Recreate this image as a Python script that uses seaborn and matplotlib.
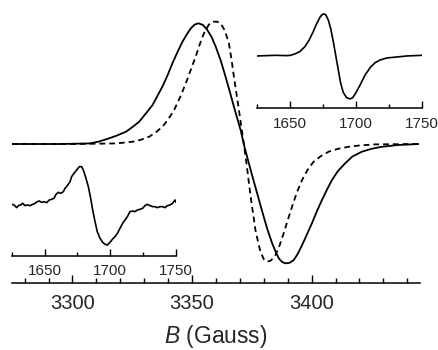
import matplotlib
matplotlib.use("Agg")
import matplotlib.pyplot as plt
import seaborn as sns
from matplotlib.ticker import MultipleLocator, FixedLocator

# ---------------- data ----------------
# main spectrum, solid curve (B in Gauss, derivative signal in a.u.)
solid_B = [3274.6, 3294.6, 3307.1, 3311.0, 3315.4, 3318.5, 3322.4, 3325.0, 3327.9,
           3330.5, 3333.5, 3335.5, 3337.6, 3339.7, 3341.8, 3344.0, 3346.0, 3348.0,
           3349.5, 3351.0, 3352.6, 3354.5, 3356.4, 3358.2, 3359.9, 3362.0, 3364.0,
           3365.8, 3367.5, 3370.3, 3372.0, 3375.1, 3379.3, 3381.4, 3383.5, 3385.0,
           3386.3, 3387.6, 3389.0, 3390.8, 3392.5, 3394.2, 3396.0, 3398.0, 3400.1,
           3402.2, 3404.3, 3406.4, 3408.5, 3411.0, 3414.0, 3417.0, 3421.0, 3425.0,
           3429.3, 3436.3, 3444.6]
solid_signal = [0, 0, 0.5, 2.0, 4.8, 7.0, 10.3, 14.0, 18.6,
                25.0, 32.5, 40.0, 47.8, 57.0, 67.3, 77.0, 85.3, 92.0,
                96.4, 99.4, 100.6, 99.3, 95.0, 89.0, 81.1, 69.5, 56.1,
                43.5, 31.1, 11.7, -3.0, -26.0, -56.0, -70.5, -82.8, -90.0,
                -95.3, -98.2, -99.4, -99.0, -96.7, -91.5, -84.2, -75.5, -66.1,
                -56.0, -46.7, -38.0, -30.0, -22.5, -16.1, -10.5, -6.4, -4.0,
                -2.3, -0.8, 0]

# main spectrum, dashed curve
dashed_B = [3274.6, 3300.0, 3318.3, 3325.1, 3328.5, 3332.1, 3335.0, 3337.6, 3340.0,
            3342.5, 3345.0, 3347.4, 3349.5, 3351.5, 3353.3, 3355.0, 3357.0, 3358.5,
            3360.3, 3362.0, 3363.8, 3365.4, 3366.5, 3367.5, 3369.6, 3372.4, 3374.5,
            3376.5, 3377.6, 3378.6, 3380.0, 3381.4, 3383.0, 3384.9, 3386.6, 3388.3,
            3390.0, 3391.8, 3393.8, 3396.0, 3398.3, 3400.8, 3403.7, 3407.1, 3411.0,
            3415.4, 3420.0, 3426.5, 3444.6]
dashed_signal = [0, 0, 0.5, 1.9, 3.5, 6.1, 10.0, 14.4, 20.5,
                 28.3, 39.0, 50.6, 62.0, 72.8, 83.5, 92.3, 99.5, 101.9,
                 102.0, 100.6, 94.0, 83.9, 70.5, 56.1, 28.3, -10.6, -43.9,
                 -71.7, -81.5, -89.8, -96.0, -98.1, -97.0, -92.5, -84.5, -74.4,
                 -63.5, -52.2, -40.5, -30.0, -21.5, -14.8, -10.3, -6.4, -4.0,
                 -2.3, -1.2, -0.3, 0]

# lower-left inset (half-field region, noisy)
low_B = [1625.0, 1626.8, 1628.8, 1630.1, 1631.8, 1633.4, 1635.1, 1636.9, 1638.9,
         1641.0, 1642.7, 1644.5, 1646.0, 1647.8, 1649.6, 1651.6, 1653.6, 1655.4,
         1657.2, 1658.7, 1660.5, 1662.3, 1664.3, 1665.6, 1667.3, 1669.4, 1670.6,
         1672.4, 1674.4, 1676.5, 1678.2, 1679.5, 1681.5, 1683.3, 1685.1, 1686.6,
         1688.4, 1690.1, 1692.2, 1694.2, 1696.0, 1697.8, 1699.8, 1701.8, 1703.6,
         1705.4, 1707.4, 1709.4, 1711.2, 1713.0, 1715.0, 1717.0, 1718.8, 1720.6,
         1722.6, 1724.6, 1726.4, 1728.2, 1730.2, 1732.2, 1734.0, 1735.8, 1737.8,
         1739.8, 1741.6, 1743.4, 1745.4, 1747.4, 1749.2, 1750.0]
low_signal = [0, -1.7, -8.3, -3.3, -1.7, 2.5, -3.3, -1.7, -3.3,
              0, 2.5, 6.7, 8.3, 5.0, 6.7, 4.2, 10.8, 12.5,
              15.0, 25.0, 30.0, 27.5, 31.7, 40.0, 46.7, 56.7, 69.2,
              77.5, 85.8, 94.2, 94.2, 85.8, 65.0, 44.2, 15.0, -14.2,
              -43.3, -68.3, -85.0, -95.0, -100.0, -101.7, -95.0, -86.7, -80.8,
              -72.5, -60.0, -47.5, -39.2, -30.8, -18.3, -16.7, -18.3, -14.2,
              -12.5, -10.0, -3.3, 0, -3.3, -5.8, -5.8, -8.3, -5.8,
              -5.8, -8.3, -3.3, -1.7, 2.5, 10.8, 5.0]

# upper-right inset (half-field region, smooth)
up_B = [1625.0, 1632.1, 1639.7, 1647.3, 1650.4, 1653.6, 1657.4, 1661.3, 1664.5,
        1667.6, 1670.1, 1672.7, 1674.0, 1675.2, 1676.3, 1677.2, 1679.0, 1680.8,
        1682.8, 1684.8, 1686.6, 1688.4, 1690.4, 1692.9, 1695.5, 1697.5, 1700.0,
        1703.1, 1706.9, 1710.7, 1714.5, 1718.3, 1723.4, 1731.0, 1738.6, 1750.0]
up_signal = [0, 0.8, 1.5, 0.8, 1.5, 4.6, 10.0, 21.5, 36.9,
             56.2, 73.8, 89.2, 94.5, 96.9, 96.5, 94.6, 83.1, 63.8,
             33.1, -1.5, -32.3, -63.1, -84.6, -96.2, -99.2, -96.2, -84.6,
             -66.9, -43.8, -26.9, -15.4, -9.2, -4.6, -2.3, 0, 1.5]

main_major_ticks = [3300, 3350, 3400]
inset_major_ticks = [1650, 1700, 1750]
inset_minor_ticks = [1625, 1675, 1725]
x_label = "$B$ (Gauss)"

# ---------------- styling ----------------
sns.set_theme(style="white")
plt.rcParams["font.family"] = ["Liberation Sans", "DejaVu Sans"]
plt.rcParams["mathtext.fontset"] = "custom"
plt.rcParams["mathtext.it"] = "Liberation Sans:italic"
plt.rcParams["mathtext.rm"] = "Liberation Sans"

fig = plt.figure(figsize=(4.38, 3.5), dpi=100)
W, H = 438.0, 350.0


def box(x0, x1, ytop, ybot):
    return [x0 / W, 1 - ybot / H, (x1 - x0) / W, (ybot - ytop) / H]


ax = fig.add_axes(box(11.7, 420.0, 0.0, 283.0))
ax_low = fig.add_axes(box(11.7, 176.0, 150.0, 256.0))
ax_up = fig.add_axes(box(257.0, 422.0, 0.0, 108.3))

# main curves
sns.lineplot(x=solid_B, y=solid_signal, ax=ax, color="black", lw=1.3,
             estimator=None, sort=False)
sns.lineplot(x=dashed_B, y=dashed_signal, ax=ax, color="black", lw=1.3,
             ls=(0, (3.2, 2.2)), estimator=None, sort=False)
ax.set_xlim(3274.6, 3445.3)
ax.set_ylim(-115.8, 120.0)

# insets
sns.lineplot(x=low_B, y=low_signal, ax=ax_low, color="black", lw=1.2,
             estimator=None, sort=False)
ax_low.set_xlim(1625, 1750)
ax_low.set_ylim(-129.2, 135.8)

sns.lineplot(x=up_B, y=up_signal, ax=ax_up, color="black", lw=1.2,
             estimator=None, sort=False)
ax_up.set_xlim(1625, 1750)
ax_up.set_ylim(-120.8, 129.2)

for a in (ax, ax_low, ax_up):
    a.set_facecolor("none")
    for s in ("left", "right", "top"):
        a.spines[s].set_visible(False)
    a.spines["bottom"].set_color("black")
    a.spines["bottom"].set_linewidth(1.1)
    a.set_yticks([])
    a.set_ylabel("")
    a.grid(False)

ax.xaxis.set_major_locator(FixedLocator(main_major_ticks))
ax.xaxis.set_minor_locator(MultipleLocator(10))
ax.tick_params(axis="x", which="major", direction="in", length=6, width=1.0,
               color="black", labelsize=14.5, pad=8, bottom=True)
ax.tick_params(axis="x", which="minor", direction="in", length=3.5, width=1.0,
               color="black", bottom=True)
ax.set_xlabel(x_label, fontsize=16.5, labelpad=7)

for a in (ax_low, ax_up):
    a.xaxis.set_major_locator(FixedLocator(inset_major_ticks))
    a.xaxis.set_minor_locator(FixedLocator(inset_minor_ticks))
    a.tick_params(axis="x", which="major", direction="in", length=5, width=1.0,
                  color="black", labelsize=11, pad=6, bottom=True)
    a.tick_params(axis="x", which="minor", direction="in", length=3, width=1.0,
                  color="black", bottom=True)
    a.set_xlabel("")

fig.savefig("out.png", dpi=100, facecolor="white")
